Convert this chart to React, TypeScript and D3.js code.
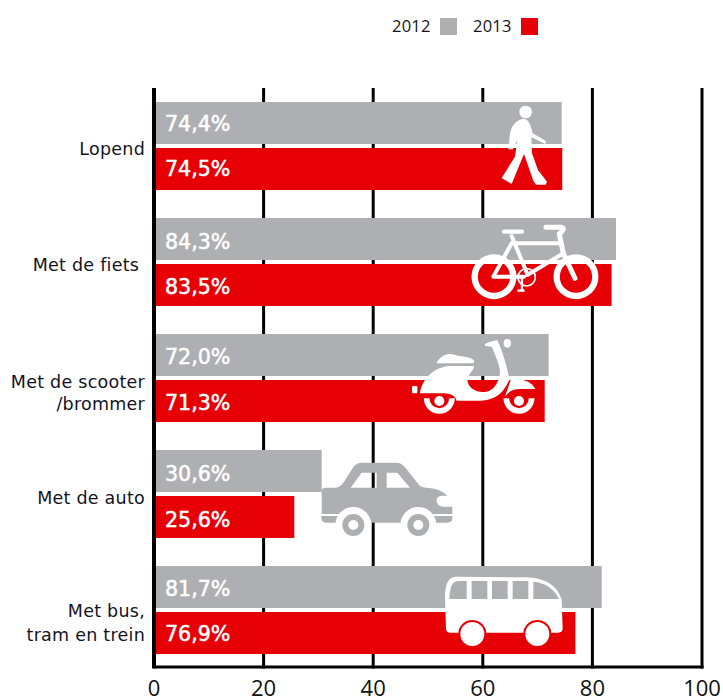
import React from "react";
import * as d3 from "d3";

const categories = ["Lopend", "Met de fiets", "Met de scooter", "Met de auto", "Met bus"];
const categoryLines = [["Lopend"], ["Met de fiets "], ["Met de scooter", "/brommer"], ["Met de auto"], ["Met bus,", "tram en trein"]];
const seriesNames = ["2012", "2013"];
const values2012 = [74.4, 84.3, 72.0, 30.6, 81.7];
const values2013 = [74.5, 83.5, 71.3, 25.6, 76.9];
const ticks = [0, 20, 40, 60, 80, 100];

const GRAY = "#aeafb2";
const RED = "#e60005";
const INK = "#14141e";
const FONT = "'DejaVu Sans', Verdana, sans-serif";

const lineOffsets = [[53], [53], [54, 76], [54], [51, 75]];
const nudge2012 = [0, 2, 1, 2, 0.5];
const nudge2013 = [-1, 0.5, 0.5, 1.5, 0];

const x = d3.scaleLinear().domain([0, 100]).range([154, 702]);
const y = d3.scaleBand().domain(categories).range([88, 668]).paddingInner(28 / 116).paddingOuter(14 / 116);
const inner = d3.scaleBand().domain(seriesNames).range([0, 88]).paddingInner(4 / 46);
const fmt = (v: number) => v.toFixed(1).replace(".", ",") + "%";

function Walker() {
  return (
    <g transform="translate(400,90) scale(0.3333)" fill="#fff">
      <circle cx={377} cy={66} r={19} />
      <path d="M372 86C386 88 393 105 398 130L438 153L436 162L394 142L396 190L414 240L441 275L437 284L408 284L400 272L372 192L335 282L305 264L345 200L352 150L338 178L325 178L330 130C335 105 350 88 372 86Z" />
    </g>
  );
}

function Bike() {
  return (
    <g transform="translate(400,90) scale(0.3333)" fill="none" stroke="#fff" strokeLinecap="round" strokeLinejoin="round">
      <circle cx={282} cy={560} r={58} strokeWidth={19} />
      <circle cx={528} cy={560} r={58} strokeWidth={19} />
      <path d="M335 460H480M335 438L382 552M335 460L280 560H372M490 490L382 555" strokeWidth={12} />
      <path d="M478 432L490 490L525 565" strokeWidth={15} />
      <path d="M312 425H366" strokeWidth={13} />
      <path d="M438 412H485Q498 415 478 432" strokeWidth={15} />
      <circle cx={380} cy={562} r={26} strokeWidth={5} />
      <path d="M366 565V600M352 602H374" strokeWidth={7} strokeLinecap="butt" />
    </g>
  );
}

function Scooter() {
  const wheel = (cx: number) => (
    <g>
      <path d={`M${cx - 38} 205A38 38 0 1 0 ${cx + 38} 205`} fill="none" stroke="#fff" strokeWidth={17} />
      <circle cx={cx} cy={213} r={15} fill="#fff" />
    </g>
  );
  return (
    <g transform="translate(300,330) scale(0.3333)" fill="#fff">
      <ellipse cx={622} cy={40} rx={11} ry={13} />
      <path d="M410 100C415 85 440 65 465 75C490 82 520 80 523 95L520 100Z" />
      <path d="M360 190C365 150 400 110 450 108H522C524 118 506 130 502 150C505 175 530 190 560 185C585 180 600 150 600 122C597 100 585 72 575 50L556 48C548 40 570 35 592 30C606 60 624 115 628 150C615 175 600 210 540 212H470C465 195 450 190 420 190Z" />
      <path d="M632 150H668C690 155 700 165 706 177H660C640 177 625 185 615 200Z" />
      <rect x={336} y={168} width={16} height={22} rx={4} />
      {wheel(418)}
      {wheel(657)}
    </g>
  );
}

function Car() {
  const wheel = (cx: number) => (
    <g>
      <circle cx={cx} cy={585} r={54} fill="#fff" />
      <circle cx={cx} cy={585} r={24} fill="none" stroke={GRAY} strokeWidth={18} />
    </g>
  );
  return (
    <g transform="translate(300,330) scale(0.3333)" fill={GRAY}>
      <path
        fillRule="evenodd"
        d="M65 484Q65 473 76 473H108Q120 472 130 458L160 412Q170 398 185 398H290Q305 398 315 412L358 466Q364 473 380 473Q420 475 442 497H425Q408 499 410 514Q412 528 428 530H457V552H65ZM152 473H230V428H185ZM260 428V473H330L292 428Z"
      />
      <path d="M64 558H122V578H80Q64 578 64 564ZM300 552H400V578H120V552ZM400 558H457V564Q457 578 442 578H400Z" />
      {wheel(160)}
      {wheel(355)}
    </g>
  );
}

function Bus() {
  const wheel = (cx: number) => (
    <g>
      <circle cx={cx} cy={222} r={42} fill={RED} />
      <circle cx={cx} cy={222} r={36} fill="#fff" />
    </g>
  );
  return (
    <g transform="translate(420,560) scale(0.3333)">
      <path fill="#fff" d="M75 115C75 70 85 50 110 50L320 52C380 55 415 80 425 120L428 205Q428 218 415 218H90Q78 218 78 205Z" />
      <g fill={GRAY}>
        <path d="M88 117C90 80 95 65 115 63H140V117Z" />
        <rect x={155} y={63} width={47} height={54} />
        <rect x={216} y={63} width={47} height={54} />
        <rect x={278} y={63} width={47} height={54} />
        <path d="M340 65C375 68 402 85 417 117H340Z" />
      </g>
      {wheel(157)}
      {wheel(352)}
    </g>
  );
}

export default function App() {
  const top = 88;
  const bottom = 667;
  return (
    <svg width={723} height={698} style={{ position: "absolute", left: 0, top: 0 }} fontFamily={FONT}>
      {ticks.map((t) => (
        <line key={t} x1={x(t)} x2={x(t)} y1={top} y2={bottom + 1.5} stroke="#000" strokeWidth={t === 0 ? 4 : 3} />
      ))}
      <line x1={x(0)} x2={x(100) + 1.5} y1={bottom} y2={bottom} stroke="#000" strokeWidth={3} />
      {ticks.map((t) => (
        <text key={t} x={x(t)} y={696} textAnchor="middle" fontSize={22} fontFamily="'Open Sans', sans-serif" fill="#111">{t}</text>
      ))}
      {categories.map((c, i) => {
        const y0 = y(c)!;
        const rows = [
          { name: seriesNames[0], v: values2012[i], fill: GRAY },
          { name: seriesNames[1], v: values2013[i], fill: RED },
        ];
        return (
          <g key={c}>
            {rows.map((r) => (
              <rect key={r.name} x={x(0) + 2} y={y0 + inner(r.name)!} width={x(r.v) - x(0) - 2} height={inner.bandwidth()} fill={r.fill} />
            ))}
            {categoryLines[i].map((l, j) => (
              <text key={j} x={145} y={y0 + lineOffsets[i][j]} textAnchor="end" fontSize={17.5} letterSpacing={0.25} fill={INK} xmlSpace="preserve">{l}</text>
            ))}
          </g>
        );
      })}
      <Walker />
      <Bike />
      <Scooter />
      <Car />
      <Bus />
      {categories.map((c, i) => (
        <g key={c} fontSize={20.6} fontWeight={500} fill="#fff" stroke="#fff" strokeWidth={0.5}>
          <text x={165} y={y(c)! + inner(seriesNames[0])! + 29 + nudge2012[i]}>{fmt(values2012[i])}</text>
          <text x={165} y={y(c)! + inner(seriesNames[1])! + 29 + nudge2013[i]}>{fmt(values2013[i])}</text>
        </g>
      ))}
      <g fontSize={16.5} letterSpacing={0.2} fontFamily="'Open Sans', sans-serif" fill={INK}>
        <text x={392} y={31.5}>{seriesNames[0]}</text>
        <rect x={440} y={18} width={17} height={17} fill={GRAY} />
        <text x={473} y={31.5}>{seriesNames[1]}</text>
        <rect x={521} y={18} width={17} height={17} fill={RED} />
      </g>
    </svg>
  );
}
